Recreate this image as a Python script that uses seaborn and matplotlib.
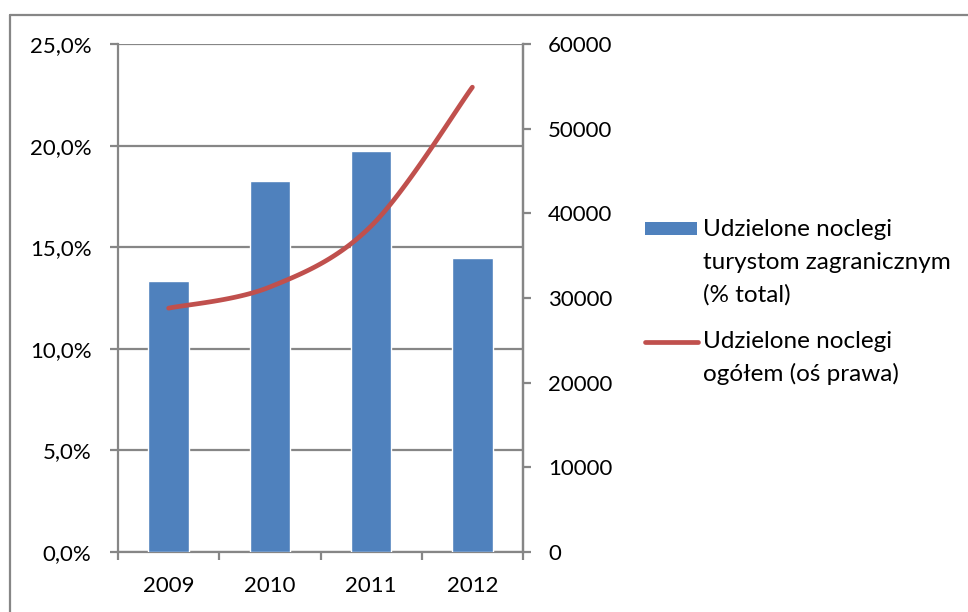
import numpy as np
import pandas as pd
import matplotlib
matplotlib.use("Agg")
import matplotlib.pyplot as plt
import seaborn as sns
from matplotlib.ticker import FuncFormatter, MultipleLocator, FixedLocator
from matplotlib.lines import Line2D
from matplotlib.patches import Rectangle

years = ["2009", "2010", "2011", "2012"]
share_foreign = [13.35, 18.27, 19.72, 14.47]          # % total (left axis)
total_nights = [28800, 31300, 38500, 54900]            # right axis
bar_label = ["Udzielone noclegi", "turystom zagranicznym", "(% total)"]
line_label = ["Udzielone noclegi", "ogółem (oś prawa)"]

BLUE = "#4F81BD"
RED = "#C0504D"
GREY = "#868686"

sns.set_theme(style="white")
plt.rcParams["font.family"] = ["Lato", "DejaVu Sans"]

W, H = 968, 612
fig = plt.figure(figsize=(W/100, H/100), dpi=100)
ax = fig.add_axes([118/W, 1-552/H, (523-118)/W, (552-44)/H])

df = pd.DataFrame({"year": years, "share": share_foreign})
sns.barplot(data=df, x="year", y="share", color=BLUE, width=0.4, ax=ax,
            saturation=1, zorder=3)
ax.set_xlim(-0.5, 3.5)
ax.set_ylim(0, 25)
ax.yaxis.set_major_locator(MultipleLocator(5))
ax.yaxis.set_major_formatter(FuncFormatter(lambda v, p: f"{v:.1f}%".replace(".", ",")))
ax.grid(axis="y", color=GREY, lw=1.6, zorder=0)
ax.set_axisbelow(True)
ax.set_xlabel("")
ax.set_ylabel("")

ax.spines["top"].set_visible(False)
for s in ["left", "bottom", "right"]:
    ax.spines[s].set_color(GREY)
    ax.spines[s].set_linewidth(1.6)

ax.tick_params(axis="y", direction="out", length=6, width=1.6, color=GREY,
               pad=13, labelsize=16, labelcolor="black", left=True)
ax.tick_params(axis="x", which="major", length=0, pad=17, labelsize=16,
               labelcolor="black")
ax.xaxis.set_minor_locator(FixedLocator(np.arange(-0.5, 4, 1.0)))
ax.tick_params(axis="x", which="minor", direction="out", length=6, width=1.6,
               color=GREY, bottom=True)

# right axis with smoothed line (Bezier rendering through the 4 points)
ax2 = ax.twinx()
ax2.set_ylim(0, 60000)
ax2.yaxis.set_major_locator(MultipleLocator(10000))
ax2.yaxis.set_major_formatter(FuncFormatter(lambda v, p: f"{int(v)}"))
for s in ["top", "left", "bottom"]:
    ax2.spines[s].set_visible(False)
ax2.spines["right"].set_color(GREY)
ax2.spines["right"].set_linewidth(1.6)
ax2.tick_params(axis="y", direction="out", length=6, width=1.6, color=GREY,
                pad=12, labelsize=16, labelcolor="black", right=True)
ax2.grid(False)

xp = np.arange(len(years), dtype=float)
yp = np.array(total_nights, dtype=float)
P = np.concatenate([[yp[0]], yp, [yp[-1]]])
X = np.concatenate([[xp[0]], xp, [xp[-1]]])
xs, ys = [], []
for i in range(1, len(P) - 2):
    t = np.linspace(0, 1, 40)
    p0, p1, p2, p3 = P[i-1], P[i], P[i+1], P[i+2]
    q0, q1, q2, q3 = X[i-1], X[i], X[i+1], X[i+2]
    c1y = p1 + (p2 - p0) / 6
    c2y = p2 - (p3 - p1) / 6
    c1x = q1 + (q2 - q0) / 6
    c2x = q2 - (q3 - q1) / 6
    bx = (1-t)**3*q1 + 3*(1-t)**2*t*c1x + 3*(1-t)*t**2*c2x + t**3*q2
    by = (1-t)**3*p1 + 3*(1-t)**2*t*c1y + 3*(1-t)*t**2*c2y + t**3*p2
    xs.extend(bx); ys.extend(by)
sns.lineplot(x=np.array(xs), y=np.array(ys), ax=ax2, color=RED, lw=3.4,
             sort=False, estimator=None, solid_capstyle="round", zorder=4)

# legend (drawn in figure pixels to match the Excel layout)
LFS = 17.5
fig.add_artist(Rectangle((645/W, 1-235/H), 52/W, 13/H, facecolor=BLUE,
                         edgecolor="none", transform=fig.transFigure))
for k, line in enumerate(bar_label):
    fig.text(703/W, 1-(236 + 33*k)/H, line, fontsize=LFS, va="baseline",
             ha="left", color="black")
fig.add_artist(Line2D([645/W, 698/W], [1-342/H, 1-342/H], color=RED, lw=3.4,
                      solid_capstyle="round", transform=fig.transFigure))
for k, line in enumerate(line_label):
    fig.text(703/W, 1-(348 + 33*k)/H, line, fontsize=LFS, va="baseline",
             ha="left", color="black")

# outer chart border
fig.add_artist(Line2D([10/W, 10/W], [0, 1-15/H], color=GREY, lw=1.6,
                      transform=fig.transFigure))
fig.add_artist(Line2D([10/W, 1], [1-15/H, 1-15/H], color=GREY, lw=1.6,
                      transform=fig.transFigure))

fig.savefig("out.png", dpi=100, facecolor="white")
